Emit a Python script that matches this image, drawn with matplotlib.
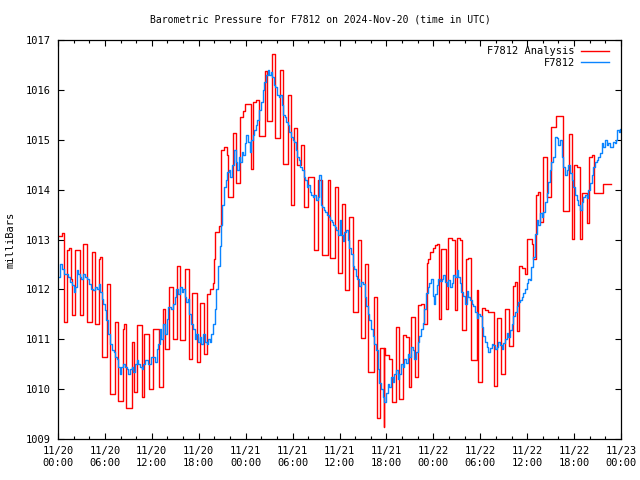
import numpy as np
import matplotlib
matplotlib.use('Agg')
import matplotlib.pyplot as plt
from matplotlib.ticker import MultipleLocator

# hours since 2024-11-20 00:00 UTC, pressure in mb
obs_hours = [0.0, 0.25, 0.5, 0.75, 1.0, 1.25, 1.5, 1.75, 2.0, 2.2, 2.4, 2.6, 2.8, 3.0, 3.25, 3.5, 3.75,
             4.0, 4.25, 4.5, 4.75, 5.0, 5.2, 5.4, 5.6, 5.8, 6.0, 6.2, 6.45, 6.65, 6.85, 7.1, 7.3, 7.5,
             7.7, 7.9, 8.1, 8.35, 8.55, 8.8, 9.0, 9.2, 9.4, 9.6, 9.85, 10.05, 10.25, 10.5, 10.7, 10.9,
             11.1, 11.5, 11.95, 12.4,
             12.6, 12.8, 13.0, 13.2, 13.45, 13.7, 13.9, 14.1, 14.4, 14.7, 14.9, 15.15, 15.4, 15.6, 15.8,
             16.0, 16.2, 16.4, 16.6, 16.8, 17.05, 17.25, 17.5, 17.7, 17.9, 18.1, 18.3, 18.5, 18.75, 19.0,
             19.2, 19.4, 19.6, 19.82, 20.03, 20.25, 20.46, 20.67, 20.85, 20.97, 21.23, 21.5, 21.65, 21.82,
             22.0, 22.25, 22.5, 22.7, 22.9, 23.1, 23.3, 23.5, 23.7, 23.87, 24.05,
             24.3, 24.5, 24.7, 24.9, 25.1, 25.3, 25.5, 25.75, 26.0, 26.2, 26.4, 26.6, 26.8, 27.0, 27.2,
             27.4, 27.6, 27.8, 28.0, 28.2, 28.4, 28.6, 28.8, 29.0, 29.2, 29.4, 29.6, 29.8, 30.0, 30.2,
             30.4, 30.6, 30.8, 31.0, 31.2, 31.4, 31.6, 31.8, 32.0, 32.2, 32.4, 32.6, 32.8, 33.0, 33.2,
             33.4, 33.6, 33.8, 34.0, 34.2, 34.4, 34.6, 34.8, 35.0, 35.2, 35.4, 35.6, 35.8,
             36.0, 36.2, 36.4, 36.6, 36.83, 37.05, 37.25, 37.45, 37.68, 37.9, 38.11, 38.3, 38.53, 38.75,
             38.96, 39.2, 39.39, 39.6, 39.82, 40.0, 40.24, 40.45, 40.67, 40.9, 41.09, 41.3, 41.52, 41.7,
             41.95, 42.15, 42.37, 42.6, 42.8, 43.0, 43.22, 43.45, 43.65, 43.85, 44.08, 44.3, 44.5, 44.7,
             44.93, 45.15, 45.35, 45.55, 45.78, 46.0, 46.2, 46.4, 46.63, 46.85, 47.06, 47.3, 47.49, 47.7,
             47.91, 48.1, 48.25, 48.42, 48.65, 48.85, 49.05, 49.28, 49.5, 49.7, 49.91, 50.1, 50.34, 50.55,
             50.75, 50.98, 51.2, 51.41, 51.6, 51.83, 52.05, 52.26, 52.45, 52.69, 52.9, 53.11, 53.3, 53.54,
             53.75, 53.97, 54.2, 54.39, 54.6, 54.82, 55.0, 55.25, 55.45, 55.67, 55.9, 56.1, 56.3, 56.52,
             56.75, 56.95, 57.15, 57.37, 57.6, 57.8, 58.0, 58.22, 58.45, 58.65, 58.85, 59.08, 59.3, 59.51,
             59.7, 59.93, 60.15, 60.36, 60.55, 60.78, 61.0, 61.21, 61.4, 61.64, 61.85, 62.07, 62.3, 62.49,
             62.7, 62.92, 63.1, 63.34, 63.56, 63.77, 64.0, 64.19, 64.4, 64.62, 64.85, 65.05, 65.25, 65.47,
             65.7, 65.9, 66.1, 66.33, 66.55, 66.75, 67.0, 67.18, 67.4, 67.6, 67.8, 68.03, 68.25, 68.46,
             68.7, 68.88, 69.1, 69.31, 69.52, 69.75, 69.95, 70.15, 70.38, 70.6, 70.8, 71.0, 71.23, 71.4,
             71.53, 71.75, 71.87, 72.0]
obs_mb = [1012.25, 1012.5, 1012.4, 1012.3, 1012.3, 1012.25, 1012.15, 1012.08, 1011.95, 1012.05, 1012.38,
          1012.3, 1012.25, 1012.2, 1012.3, 1012.25, 1012.2, 1012.1, 1012.0, 1011.98, 1012.05, 1012.0,
          1012.1, 1011.95, 1011.8, 1011.7, 1011.58, 1011.38, 1011.1, 1010.9, 1010.78, 1010.75, 1010.65,
          1010.6, 1010.45, 1010.31, 1010.45, 1010.5, 1010.45, 1010.4, 1010.31, 1010.4, 1010.45, 1010.35,
          1010.5, 1010.58, 1010.5, 1010.45, 1010.4, 1010.5, 1010.58, 1010.5, 1010.65, 1010.55,
          1010.8, 1010.9, 1011.2, 1011.0, 1011.3, 1011.1, 1011.4, 1011.65, 1011.6, 1011.7, 1011.85,
          1012.0, 1011.9, 1012.05, 1011.95, 1012.0, 1011.85, 1011.75, 1011.8, 1011.5, 1011.3, 1011.2,
          1011.0, 1011.1, 1010.95, 1011.05, 1010.9, 1011.1, 1010.95, 1010.9, 1011.0, 1010.95, 1011.1,
          1011.3, 1011.6, 1012.0, 1012.46, 1012.86, 1013.3, 1013.7, 1014.06, 1014.2, 1014.35, 1014.4,
          1014.25, 1014.5, 1014.8, 1014.55, 1014.4, 1014.65, 1014.55, 1014.75, 1014.7, 1014.93, 1015.1,
          1014.95, 1014.75, 1015.0, 1015.1, 1015.2, 1015.3, 1015.4, 1015.6, 1015.75, 1016.0, 1016.15,
          1016.3, 1016.4, 1016.3, 1016.35, 1016.25, 1016.1, 1016.05, 1015.9, 1015.85, 1015.9, 1015.7,
          1015.5, 1015.45, 1015.35, 1015.3, 1015.15, 1015.05, 1015.0, 1014.95, 1014.8, 1014.65, 1014.6,
          1014.45, 1014.4, 1014.25, 1014.2, 1014.05, 1014.1, 1013.95, 1013.9, 1013.85, 1013.9, 1013.8,
          1013.85, 1014.3, 1013.7, 1013.65, 1013.6, 1013.55, 1013.5, 1013.45, 1013.4, 1013.35, 1013.3,
          1013.25, 1013.2, 1013.1,
          1013.39, 1013.1, 1012.96, 1013.15, 1013.2, 1013.0, 1012.83, 1012.7, 1012.46, 1012.4, 1012.26,
          1012.2, 1012.06, 1012.15, 1012.1, 1011.85, 1011.66, 1011.5, 1011.39, 1011.2, 1011.06, 1010.9,
          1010.79, 1010.4, 1010.12, 1010.0, 1009.85, 1009.75, 1009.92, 1010.1, 1010.05, 1010.25, 1010.15,
          1010.3, 1010.39, 1010.2, 1010.3, 1010.5, 1010.45, 1010.6, 1010.52, 1010.7, 1010.65, 1010.85,
          1010.79, 1010.6, 1010.75, 1010.95, 1011.06, 1011.2, 1011.32, 1011.6, 1011.92, 1012.05, 1012.12,
          1012.2, 1011.86, 1011.7, 1011.9, 1012.09, 1012.2, 1012.16, 1012.2, 1012.29, 1012.15, 1012.06,
          1012.19, 1012.05, 1012.12, 1012.29, 1012.25, 1012.39, 1012.25, 1012.12, 1011.95, 1011.86,
          1011.7, 1011.96, 1011.85, 1011.79, 1011.7, 1011.66, 1011.55, 1011.42, 1011.5, 1011.46, 1011.25,
          1011.06, 1010.95, 1010.85, 1010.75, 1010.82, 1010.9, 1010.89, 1010.8, 1010.85, 1010.95, 1010.89,
          1010.8, 1010.92, 1011.0, 1011.12, 1011.05, 1011.19, 1011.3, 1011.46, 1011.55, 1011.66, 1011.75,
          1011.79, 1011.85, 1011.92, 1012.0, 1012.12, 1012.2, 1012.19, 1012.45, 1012.65, 1013.12, 1013.39,
          1013.3, 1013.53, 1013.45, 1013.56, 1013.75, 1013.93, 1014.15, 1014.39, 1014.55, 1014.66, 1015.06,
          1015.03, 1014.9, 1015.0, 1014.66, 1014.46, 1014.3, 1014.4, 1014.5, 1014.33, 1014.2, 1014.06,
          1013.9, 1013.79, 1013.7, 1013.59, 1013.75, 1013.86, 1013.9, 1013.83, 1014.0, 1014.13, 1014.3,
          1014.46, 1014.55, 1014.59, 1014.65, 1014.73, 1014.93, 1014.85, 1015.0, 1014.9, 1014.93, 1014.85,
          1014.86, 1014.95, 1014.93, 1015.0, 1015.2, 1015.15, 1015.21, 1015.2]

ana_hours = [0.0, 0.55, 0.75, 1.1, 1.35, 1.6, 1.85, 2.2, 2.75, 3.15, 3.65, 4.4, 4.75, 5.2, 5.35, 5.65,
             6.3, 6.65, 7.35, 7.7, 8.25, 8.45, 8.7, 9.5, 9.75, 10.15, 10.7, 11.0, 11.7, 12.2,
             12.95, 13.45, 13.65, 14.15, 14.7, 15.2, 15.65, 16.25, 16.75, 17.2, 17.75, 18.1, 18.65,
             19.05, 19.4, 19.8, 20.0, 20.12, 20.55, 20.8, 20.9, 21.25, 21.65, 21.75, 22.35, 22.72,
             23.23, 23.66, 23.96, 24.72, 25.0, 25.3, 25.75, 26.43, 26.73, 27.37, 27.7, 28.35, 28.8,
             29.4, 29.8, 30.14, 30.6, 31.1, 31.5, 32.0, 32.7, 33.25, 33.76, 34.5, 34.8, 35.4, 35.8,
             36.32, 36.74, 37.25, 37.77, 38.32, 38.75, 39.26, 39.69, 40.37, 40.75, 41.22, 41.65,
             41.75, 41.86, 42.37, 42.71, 43.22, 43.65, 44.08, 44.5, 44.84, 45.14, 45.65, 45.99,
             46.42, 46.76, 47.15, 47.35, 47.6, 47.9, 48.2, 48.42, 48.76, 48.93, 49.62, 49.91,
             50.34, 50.77, 51.07, 51.41, 51.71, 52.17, 52.47, 52.77, 53.54, 53.75, 54.2, 54.6,
             55.05, 55.7, 56.2, 56.6, 57.2, 57.7, 58.2, 58.45, 58.75, 58.95, 59.3, 59.7, 59.93,
             60.57, 60.8, 61.13, 61.43, 61.64, 61.98, 62.49, 63.0, 63.68, 64.62, 65.39, 65.69,
             66.0, 66.4, 66.75, 67.05, 67.61, 67.91, 68.25, 68.59, 69.75, 70.68]
ana_mb = [1013.08, 1013.13, 1011.35, 1012.78, 1012.83, 1012.2, 1011.48, 1012.78, 1011.48, 1012.9,
          1011.35, 1012.75, 1011.3, 1012.6, 1012.65, 1010.65, 1012.1, 1009.9, 1011.35, 1009.77,
          1011.2, 1011.3, 1009.63, 1010.95, 1009.95, 1011.28, 1009.85, 1011.1, 1010.0, 1011.2,
          1010.05, 1011.6, 1010.8, 1012.05, 1011.0, 1012.47, 1010.98, 1012.4, 1010.6, 1011.92,
          1010.55, 1011.72, 1010.7, 1011.9, 1012.0, 1012.12, 1012.6, 1013.16, 1013.27, 1013.56,
          1014.8, 1014.86, 1014.7, 1013.85, 1015.14, 1014.14, 1015.45, 1015.57, 1015.72, 1014.41,
          1015.76, 1015.8, 1015.08, 1016.37, 1015.38, 1016.72, 1015.03, 1016.39, 1014.51, 1015.9,
          1013.7, 1015.23, 1014.5, 1014.9, 1013.65, 1014.25, 1012.78, 1014.2, 1012.69, 1014.19,
          1012.62, 1014.06, 1012.32, 1013.71, 1011.98, 1013.46, 1011.54, 1012.99, 1011.02, 1012.5,
          1010.35, 1011.84, 1009.42, 1010.82, 1009.25, 1010.82, 1010.69, 1010.6, 1009.74, 1011.24,
          1009.8, 1011.09, 1011.05, 1010.04, 1011.44, 1010.25, 1011.68, 1011.7, 1011.3, 1012.52,
          1012.6, 1012.75, 1012.82, 1012.88, 1012.91, 1011.4, 1012.8, 1011.6, 1013.03, 1012.98,
          1011.59, 1013.03, 1012.98, 1011.19, 1012.6, 1012.62, 1010.59, 1011.99, 1010.15, 1011.62,
          1011.58, 1011.55, 1010.06, 1011.42, 1010.3, 1011.6, 1010.87, 1012.07, 1012.15, 1011.17,
          1012.47, 1012.42, 1012.3, 1013.02, 1012.9, 1012.6, 1013.89, 1013.96, 1013.36, 1014.66,
          1013.86, 1015.25, 1015.48, 1013.57, 1015.11, 1013.02, 1014.49, 1014.45, 1013.02, 1013.93,
          1013.34, 1014.66, 1014.7, 1013.93, 1014.11, 1014.11]

x_ticks = [0, 6, 12, 18, 24, 30, 36, 42, 48, 54, 60, 66, 72]
x_tick_labels = ['11/20\n00:00', '11/20\n06:00', '11/20\n12:00', '11/20\n18:00',
                 '11/21\n00:00', '11/21\n06:00', '11/21\n12:00', '11/21\n18:00',
                 '11/22\n00:00', '11/22\n06:00', '11/22\n12:00', '11/22\n18:00', '11/23\n00:00']
y_ticks = [1009, 1010, 1011, 1012, 1013, 1014, 1015, 1016, 1017]

plt.rcParams['font.family'] = ['DejaVu Sans Mono']
fs = 7.5

fig = plt.figure(figsize=(6.4, 4.8), dpi=100)
ax = fig.add_axes([58/640, 1-439/480, (621-58)/640, (439-40)/480])

ax.step(ana_hours, ana_mb, where='post', color='#ff0000', lw=1.0, label='F7812 Analysis')
ax.step(obs_hours, obs_mb, where='post', color='#0a84ff', lw=1.0, label='F7812')

ax.set_xlim(0, 72)
ax.set_ylim(1009, 1017)
ax.set_xticks(x_ticks)
ax.set_xticklabels(x_tick_labels, fontsize=fs, linespacing=1.3)
ax.set_yticks(y_ticks)
ax.set_yticklabels([str(v) for v in y_ticks], fontsize=fs)
ax.xaxis.set_minor_locator(MultipleLocator(2))
ax.tick_params(which='both', direction='in', top=True, right=True, width=0.8)
ax.tick_params(which='major', length=4, pad=5)
ax.tick_params(which='minor', length=2)
for s in ax.spines.values():
    s.set_linewidth(0.9)

leg = ax.legend(loc='upper right', bbox_to_anchor=(0.99, 1.0), frameon=False, fontsize=fs,
                markerfirst=False, handlelength=2.7, handletextpad=0.6, borderaxespad=0.2,
                labelspacing=0.15)
for t in leg.get_texts():
    t.set_ha('right')

fig.text(320/640, 1-20/480, 'Barometric Pressure for F7812 on 2024-Nov-20 (time in UTC)',
         ha='center', va='center', fontsize=7)
fig.text(11/640, 240/480, 'milliBars', rotation=90, ha='center', va='center', fontsize=fs)

plt.savefig('out.png', dpi=100)
